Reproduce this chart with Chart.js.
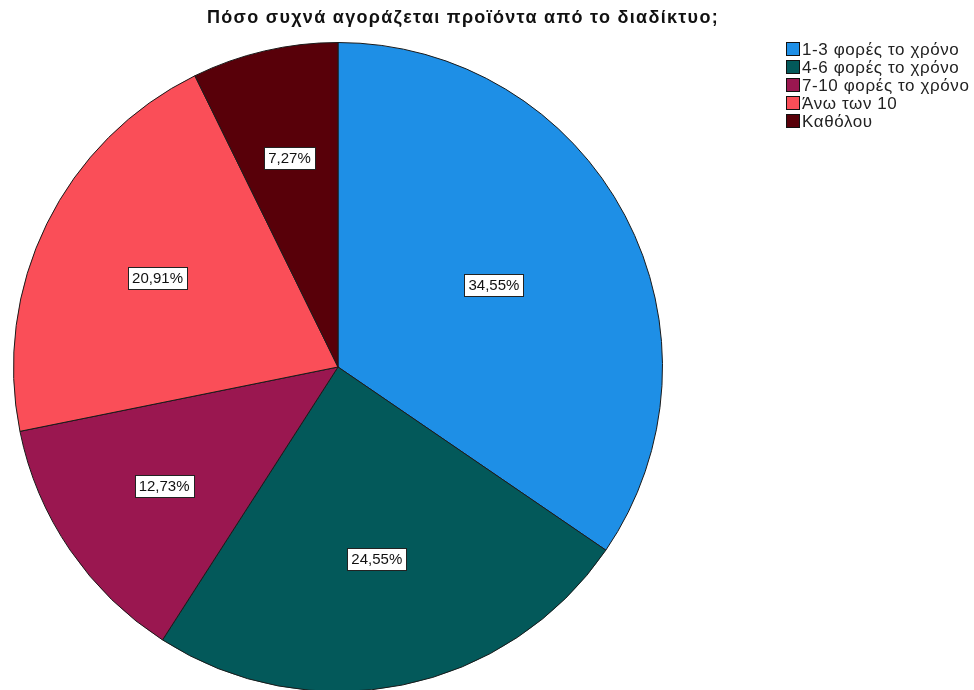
<!DOCTYPE html>
<html lang="el">
<head>
<meta charset="utf-8">
<script src="https://cdn.jsdelivr.net/npm/chart.js@4/dist/chart.umd.min.js"></script>
<style>
  html, body { margin: 0; padding: 0; background: #fff; overflow: hidden; }
  #wrap { position: relative; width: 974px; height: 690px; overflow: hidden; }
  #chart { position: absolute; left: 0; top: 0; }
  #title {
    position: absolute; left: 0; top: 7px; width: 926px; text-align: center;
    font: bold 18px "Liberation Sans", Arial, sans-serif; letter-spacing: 1.3px; color: #111;
  }
  #legend {
    position: absolute; left: 786px; top: 41px;
    font: 17px "Liberation Sans", Arial, sans-serif; letter-spacing: 0.6px; color: #222;
  }
  #legend div { height: 18px; line-height: 18px; white-space: nowrap; }
  #legend span {
    display: inline-block; width: 12px; height: 12px; border: 1px solid #111;
    vertical-align: -1px; margin-right: 2px;
  }
</style>
</head>
<body>
<div id="wrap">
  <canvas id="chart" width="974" height="700"></canvas>
  <div id="title">Πόσο συχνά αγοράζεται προϊόντα από το διαδίκτυο;</div>
  <div id="legend"></div>
</div>
<script>
const categories = ["1-3 φορές το χρόνο", "4-6 φορές το χρόνο", "7-10 φορές το χρόνο", "Άνω των 10", "Καθόλου"];
const percents = [34.55, 24.55, 12.73, 20.91, 7.27];
const colors = ["#1e8fe6", "#03595a", "#9a1750", "#fa4e58", "#580009"];

function $(id) { return document.getElementById(id); }
const fmt = v => v.toFixed(2).replace(".", ",") + "%";

// legend
$("legend").innerHTML = categories
  .map((c, i) => `<div><span style="background:${colors[i]}"></span>${c}</div>`)
  .join("");

// boxed percentage labels, placed at each sector's centroid
const sliceLabels = {
  id: "sliceLabels",
  afterDatasetsDraw(chart) {
    const ctx = chart.ctx;
    const meta = chart.getDatasetMeta(0);
    ctx.save();
    ctx.font = "15px 'Liberation Sans', Arial, sans-serif";
    ctx.textAlign = "center";
    ctx.textBaseline = "middle";
    meta.data.forEach((arc, i) => {
      const { x, y, startAngle, endAngle, outerRadius } = arc.getProps(["x", "y", "startAngle", "endAngle", "outerRadius"], true);
      const a = endAngle - startAngle;
      const mid = startAngle + a / 2;
      const r = 4 * outerRadius * Math.sin(a / 2) / (3 * a);
      const lx = x + Math.cos(mid) * r;
      const ly = y + Math.sin(mid) * r;
      const txt = fmt(percents[i]);
      const w = Math.round(ctx.measureText(txt).width) + 8;
      const h = 22;
      const bx = Math.round(lx - w / 2) + 0.5, by = Math.round(ly - h / 2) + 0.5;
      ctx.fillStyle = "#fff";
      ctx.fillRect(bx, by, w, h);
      ctx.strokeStyle = "#222";
      ctx.lineWidth = 1;
      ctx.strokeRect(bx, by, w, h);
      ctx.fillStyle = "#111";
      ctx.fillText(txt, lx, ly + 1);
    });
    ctx.restore();
  }
};

new Chart($("chart"), {
  type: "pie",
  data: {
    labels: categories,
    datasets: [{
      data: percents,
      backgroundColor: colors,
      borderColor: "#1a1a1a",
      borderWidth: 1
    }]
  },
  options: {
    responsive: false,
    animation: false,
    layout: { padding: { left: 13, right: 311, top: 42, bottom: 8 } },
    plugins: {
      legend: { display: false },
      title: { display: false },
      tooltip: { enabled: false }
    }
  },
  plugins: [sliceLabels]
});
</script>
</body>
</html>
